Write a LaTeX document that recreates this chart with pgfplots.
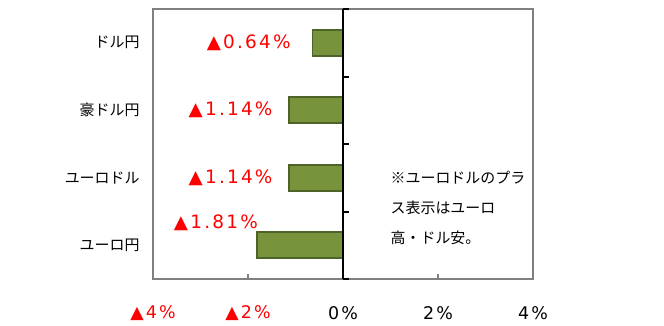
\documentclass[border=0pt]{standalone}
\usepackage{pgfplots}
\pgfplotsset{compat=1.18}
\usepackage{fontspec}
\setmainfont{Noto Sans CJK JP}
\newfontfamily\numfont[LetterSpace=12]{DejaVu Sans}
\newfontfamily\tickfont[LetterSpace=12]{DejaVu Sans}
\definecolor{barfill}{HTML}{77933C}
\definecolor{barline}{HTML}{4F6228}
\definecolor{bordergray}{HTML}{808080}
\definecolor{lblred}{HTML}{FF0000}
\begin{document}
\begin{tikzpicture}[x=1bp,y=1bp]
\useasboundingbox (-153,-46) rectangle (511,279);
\begin{axis}[
  scale only axis,
  width=380bp, height=270bp,
  at={(0,0)}, anchor=south west,
  xmin=-4, xmax=4, ymin=-0.5, ymax=3.5,
  xbar, bar width=26bp,
  axis line style={bordergray, line width=1.8bp},
  xtick={-4,-2,0,2,4},
  xticklabels={\textcolor{lblred}{▲4\%},\textcolor{lblred}{▲2\%},0\%,2\%,4\%},
  xtick style={bordergray, line width=1.8bp},
  major tick length=5bp,
  xtick pos=bottom, xtick align=inside,
  xticklabel style={font=\tickfont\fontsize{17.5}{19}\selectfont, anchor=center, yshift=-34bp},
  ytick={0,1,2,3},
  yticklabels={ユーロ円,ユーロドル,豪ドル円,ドル円},
  ytick style={draw=none},
  yticklabel style={font=\fontsize{15}{17}\selectfont, xshift=-5bp},
  /pgf/number format/assume math mode=true,
  clip=false,
]
\addplot[fill=barfill, draw=barline, line width=1.6bp] coordinates {(-1.81,0) (-1.14,1) (-1.14,2) (-0.64,3)};
\draw[black, line width=2.6bp] (axis cs:0,-0.5) -- (axis cs:0,3.5);
\pgfplotsinvokeforeach{-0.5,0.5,1.5,2.5,3.5}{
  \draw[black, line width=2bp] (axis cs:0,#1) -- ([xshift=6bp]axis cs:0,#1);
}
\node[anchor=east, text=lblred, font=\numfont\fontsize{18.5}{20}\selectfont, inner sep=0pt] at (axis cs:-1.1,3) {▲0.64\%};
\node[anchor=east, text=lblred, font=\numfont\fontsize{18.5}{20}\selectfont, inner sep=0pt] at (axis cs:-1.48,2) {▲1.14\%};
\node[anchor=east, text=lblred, font=\numfont\fontsize{18.5}{20}\selectfont, inner sep=0pt] at (axis cs:-1.48,1) {▲1.14\%};
\node[anchor=east, text=lblred, font=\numfont\fontsize{18.5}{20}\selectfont, inner sep=0pt] at (axis cs:-1.79,0.34) {▲1.81\%};
\node[anchor=west, font=\fontsize{15}{17}\selectfont, inner sep=0pt] at (axis cs:1.0,1.0) {※ユーロドルのプラ};
\node[anchor=west, font=\fontsize{15}{17}\selectfont, inner sep=0pt] at (axis cs:1.0,0.555) {ス表示はユーロ};
\node[anchor=west, font=\fontsize{15}{17}\selectfont, inner sep=0pt] at (axis cs:1.0,0.11) {高・ドル安。};
\end{axis}
\end{tikzpicture}
\end{document}
